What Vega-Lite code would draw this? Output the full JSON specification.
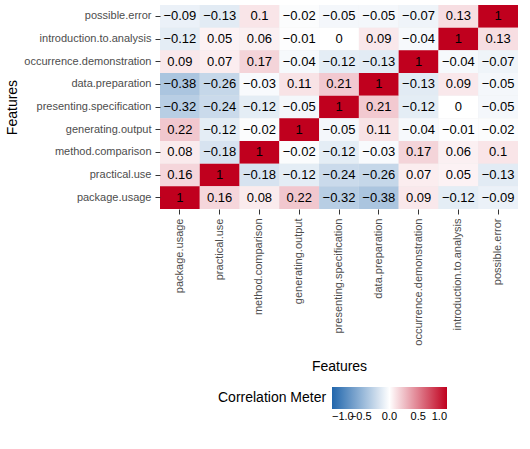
{
"$schema":"https://vega.github.io/schema/vega-lite/v6.json",
"width":358,"height":204,
"background":"white",
"config":{"view":{"fill":"#EBEBEB","stroke":null},"font":"Liberation Sans"},
"data":{"values":[
{"r":"possible.error","c":"package.usage","v":-0.09},{"r":"possible.error","c":"practical.use","v":-0.13},{"r":"possible.error","c":"method.comparison","v":0.1},{"r":"possible.error","c":"generating.output","v":-0.02},{"r":"possible.error","c":"presenting.specification","v":-0.05},{"r":"possible.error","c":"data.preparation","v":-0.05},{"r":"possible.error","c":"occurrence.demonstration","v":-0.07},{"r":"possible.error","c":"introduction.to.analysis","v":0.13},{"r":"possible.error","c":"possible.error","v":1},
{"r":"introduction.to.analysis","c":"package.usage","v":-0.12},{"r":"introduction.to.analysis","c":"practical.use","v":0.05},{"r":"introduction.to.analysis","c":"method.comparison","v":0.06},{"r":"introduction.to.analysis","c":"generating.output","v":-0.01},{"r":"introduction.to.analysis","c":"presenting.specification","v":0},{"r":"introduction.to.analysis","c":"data.preparation","v":0.09},{"r":"introduction.to.analysis","c":"occurrence.demonstration","v":-0.04},{"r":"introduction.to.analysis","c":"introduction.to.analysis","v":1},{"r":"introduction.to.analysis","c":"possible.error","v":0.13},
{"r":"occurrence.demonstration","c":"package.usage","v":0.09},{"r":"occurrence.demonstration","c":"practical.use","v":0.07},{"r":"occurrence.demonstration","c":"method.comparison","v":0.17},{"r":"occurrence.demonstration","c":"generating.output","v":-0.04},{"r":"occurrence.demonstration","c":"presenting.specification","v":-0.12},{"r":"occurrence.demonstration","c":"data.preparation","v":-0.13},{"r":"occurrence.demonstration","c":"occurrence.demonstration","v":1},{"r":"occurrence.demonstration","c":"introduction.to.analysis","v":-0.04},{"r":"occurrence.demonstration","c":"possible.error","v":-0.07},
{"r":"data.preparation","c":"package.usage","v":-0.38},{"r":"data.preparation","c":"practical.use","v":-0.26},{"r":"data.preparation","c":"method.comparison","v":-0.03},{"r":"data.preparation","c":"generating.output","v":0.11},{"r":"data.preparation","c":"presenting.specification","v":0.21},{"r":"data.preparation","c":"data.preparation","v":1},{"r":"data.preparation","c":"occurrence.demonstration","v":-0.13},{"r":"data.preparation","c":"introduction.to.analysis","v":0.09},{"r":"data.preparation","c":"possible.error","v":-0.05},
{"r":"presenting.specification","c":"package.usage","v":-0.32},{"r":"presenting.specification","c":"practical.use","v":-0.24},{"r":"presenting.specification","c":"method.comparison","v":-0.12},{"r":"presenting.specification","c":"generating.output","v":-0.05},{"r":"presenting.specification","c":"presenting.specification","v":1},{"r":"presenting.specification","c":"data.preparation","v":0.21},{"r":"presenting.specification","c":"occurrence.demonstration","v":-0.12},{"r":"presenting.specification","c":"introduction.to.analysis","v":0},{"r":"presenting.specification","c":"possible.error","v":-0.05},
{"r":"generating.output","c":"package.usage","v":0.22},{"r":"generating.output","c":"practical.use","v":-0.12},{"r":"generating.output","c":"method.comparison","v":-0.02},{"r":"generating.output","c":"generating.output","v":1},{"r":"generating.output","c":"presenting.specification","v":-0.05},{"r":"generating.output","c":"data.preparation","v":0.11},{"r":"generating.output","c":"occurrence.demonstration","v":-0.04},{"r":"generating.output","c":"introduction.to.analysis","v":-0.01},{"r":"generating.output","c":"possible.error","v":-0.02},
{"r":"method.comparison","c":"package.usage","v":0.08},{"r":"method.comparison","c":"practical.use","v":-0.18},{"r":"method.comparison","c":"method.comparison","v":1},{"r":"method.comparison","c":"generating.output","v":-0.02},{"r":"method.comparison","c":"presenting.specification","v":-0.12},{"r":"method.comparison","c":"data.preparation","v":-0.03},{"r":"method.comparison","c":"occurrence.demonstration","v":0.17},{"r":"method.comparison","c":"introduction.to.analysis","v":0.06},{"r":"method.comparison","c":"possible.error","v":0.1},
{"r":"practical.use","c":"package.usage","v":0.16},{"r":"practical.use","c":"practical.use","v":1},{"r":"practical.use","c":"method.comparison","v":-0.18},{"r":"practical.use","c":"generating.output","v":-0.12},{"r":"practical.use","c":"presenting.specification","v":-0.24},{"r":"practical.use","c":"data.preparation","v":-0.26},{"r":"practical.use","c":"occurrence.demonstration","v":0.07},{"r":"practical.use","c":"introduction.to.analysis","v":0.05},{"r":"practical.use","c":"possible.error","v":-0.13},
{"r":"package.usage","c":"package.usage","v":1},{"r":"package.usage","c":"practical.use","v":0.16},{"r":"package.usage","c":"method.comparison","v":0.08},{"r":"package.usage","c":"generating.output","v":0.22},{"r":"package.usage","c":"presenting.specification","v":-0.32},{"r":"package.usage","c":"data.preparation","v":-0.38},{"r":"package.usage","c":"occurrence.demonstration","v":0.09},{"r":"package.usage","c":"introduction.to.analysis","v":-0.12},{"r":"package.usage","c":"possible.error","v":-0.09}
]},
"encoding":{
"x":{"field":"c","type":"nominal","sort":["package.usage","practical.use","method.comparison","generating.output","presenting.specification","data.preparation","occurrence.demonstration","introduction.to.analysis","possible.error"],"title":"Features",
"axis":{"labelAngle":-90,"labelFontSize":11,"labelColor":"#4D4D4D","titleFontSize":14,"titleFontWeight":"normal","domain":false,"tickColor":"#333","labelPadding":4,"titlePadding":14}},
"y":{"field":"r","type":"nominal","sort":["possible.error","introduction.to.analysis","occurrence.demonstration","data.preparation","presenting.specification","generating.output","method.comparison","practical.use","package.usage"],"title":"Features",
"axis":{"labelFontSize":11,"labelColor":"#4D4D4D","titleFontSize":14,"titleFontWeight":"normal","domain":false,"tickColor":"#333","labelPadding":4}}
},
"layer":[
{"mark":{"type":"rect"},"encoding":{"color":{"field":"v","type":"quantitative","title":"Correlation Meter","scale":{"domain":[-1,0,1],"range":["#2166AC","#FFFFFF","#C0001E"],"interpolate":"rgb"},
"legend":{"orient":"none","legendX":58,"legendY":382,"direction":"horizontal","titleOrient":"left","gradientLength":115,"gradientThickness":22,"values":[-1,-0.5,0,0.5,1],"labelOverlap":false,"titleFontSize":14,"titleFontWeight":"normal","labelFontSize":11,"titleColor":"black","format":".1f"}}}},
{"mark":{"type":"text","fontSize":13,"color":"black"},"encoding":{"text":{"field":"v","type":"quantitative"}}}
]
}
